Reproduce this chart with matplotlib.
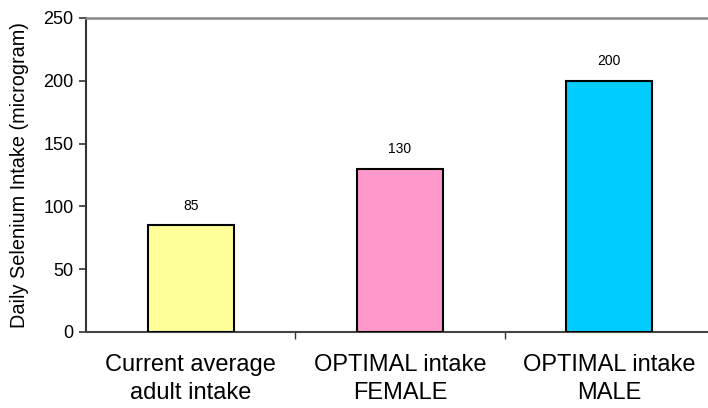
import matplotlib
matplotlib.use("Agg")
import matplotlib.pyplot as plt

plt.rcParams['font.family'] = ['Liberation Sans', 'DejaVu Sans']

categories = ["Current average\nadult intake", "OPTIMAL intake\nFEMALE", "OPTIMAL intake\nMALE"]
values = [85, 130, 200]
colors = ["#FFFF99", "#FF99CC", "#00CCFF"]
yticks = [0, 50, 100, 150, 200, 250]

fig = plt.figure(figsize=(7.08, 4.08), dpi=100)
ax = fig.add_axes([86 / 708, 76 / 408, 628 / 708, 314 / 408])

x = list(range(len(values)))
ax.bar(x, values, width=0.41, color=colors, edgecolor="black", linewidth=1.5, zorder=3)

for xi, v in zip(x, values):
    ax.annotate(str(v), (xi, v), xytext=(0, 9), textcoords="offset points",
                ha="center", va="bottom", fontsize=10)

ax.set_xlim(-0.5, 2.5)
ax.set_ylim(0, 250)
ax.set_yticks(yticks)
ax.tick_params(axis="y", direction="out", length=5, width=1.2, labelsize=13, pad=4, color="#333333")

# category boundaries carry the tick marks; labels sit at the bar centres
ax.set_xticks([0.5, 1.5, 2.5])
ax.set_xticklabels([])
ax.set_xticks(x, minor=True)
ax.set_xticklabels(categories, minor=True, fontsize=17, linespacing=1.32)
ax.tick_params(axis="x", which="major", direction="out", length=5, width=1.0, color="#333333")
ax.tick_params(axis="x", which="minor", length=0, pad=16)

ax.set_ylabel("Daily Selenium Intake (microgram)", fontsize=14.3, labelpad=10)

ax.spines["right"].set_visible(False)
ax.spines["top"].set_color("#888888")
ax.spines["top"].set_linewidth(1.8)
ax.spines["left"].set_color("#333333")
ax.spines["left"].set_linewidth(1.5)
ax.spines["bottom"].set_color("#444444")
ax.spines["bottom"].set_linewidth(1.5)

fig.savefig("out.png", dpi=100)
